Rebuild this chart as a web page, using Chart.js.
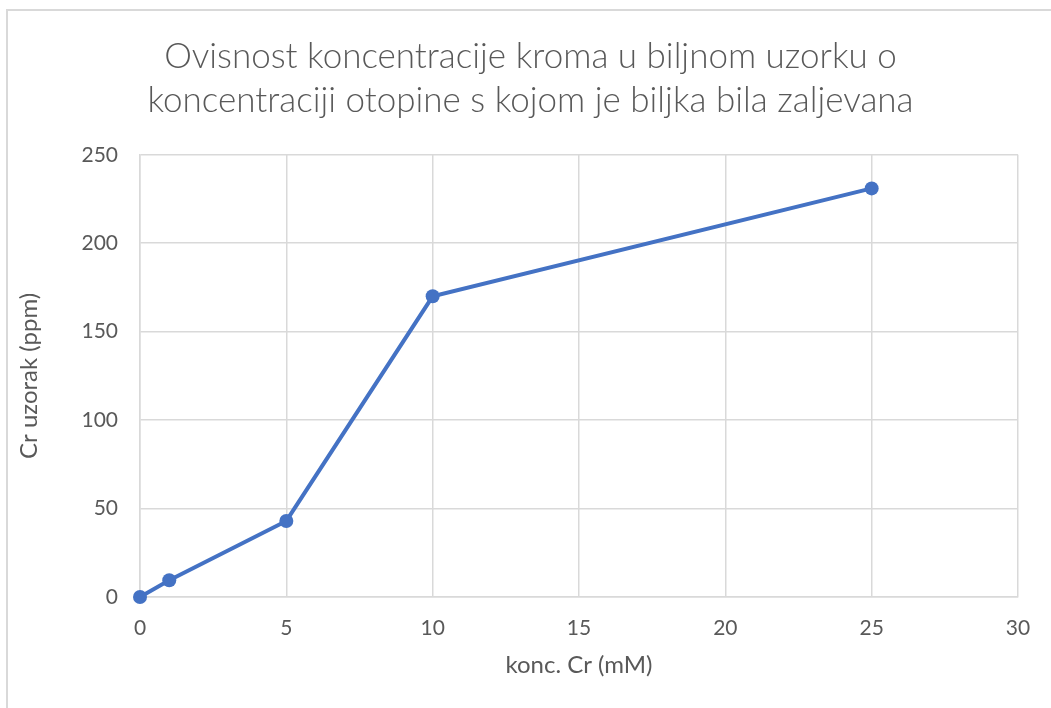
<!DOCTYPE html>
<html>
<head>
<meta charset="utf-8">
<script src="https://cdn.jsdelivr.net/npm/chart.js@4.4.1/dist/chart.umd.min.js"></script>
<style>
  html, body { margin: 0; padding: 0; background: #fff; }
  #wrap { position: relative; width: 1051px; height: 708px; }
  #frame { position: absolute; left: 6px; top: 9px; right: 0; bottom: 0;
           border-top: 2px solid #d9d9d9; border-left: 2px solid #d9d9d9; }
  canvas { position: absolute; left: 0; top: 0; }
</style>
</head>
<body>
<div id="wrap">
  <div id="frame"></div>
  <canvas id="chart" width="1051" height="708"></canvas>
</div>
<script>
// data
const koncCr = [0, 1, 5, 10, 25];
const crUzorak = [0, 9.5, 43, 170, 231];
const xTicks = [0, 5, 10, 15, 20, 25, 30];
const yTicks = [0, 50, 100, 150, 200, 250];

const titleLines = [
  "Ovisnost koncentracije kroma u biljnom uzorku o",
  "koncentraciji otopine s kojom je biljka bila zaljevana"
];

const FONT = "Lato";
const gray = "#595959";
const gridColor = "#d9d9d9";
const blue = "#4472C4";

const ctx = document.getElementById("chart").getContext("2d");

new Chart(ctx, {
  type: "line",
  data: {
    datasets: [{
      label: "Cr uzorak",
      data: koncCr.map((x, i) => ({ x: x, y: crUzorak[i] })),
      borderColor: blue,
      backgroundColor: blue,
      borderWidth: 4,
      pointRadius: 7,
      pointHoverRadius: 7,
      pointBorderWidth: 0,
      tension: 0,
      clip: false
    }]
  },
  options: {
    responsive: false,
    animation: false,
    layout: { padding: { left: 10, right: 0, top: 35, bottom: 20 } },
    plugins: {
      legend: { display: false },
      tooltip: { enabled: false },
      title: {
        display: true,
        text: titleLines,
        color: gray,
        font: { family: FONT, size: 35, weight: 300, lineHeight: 1.26 },
        padding: { top: 0, bottom: 31.6 }
      }
    },
    scales: {
      x: {
        type: "linear",
        min: 0,
        max: 30,
        afterBuildTicks: s => { s.ticks = xTicks.map(v => ({ value: v })); },
        afterFit: s => { s.height = 708 - 597 - 20; },
        grid: { color: gridColor, lineWidth: 1.5, drawTicks: false },
        border: { color: gridColor, width: 1.5 },
        ticks: { color: gray, font: { family: FONT, size: 21 }, padding: 19 },
        title: {
          display: true,
          text: "konc. Cr (mM)",
          color: gray,
          font: { family: FONT, size: 24 },
          padding: { top: 0, bottom: 8 }
        }
      },
      y: {
        min: 0,
        max: 250,
        afterBuildTicks: s => { s.ticks = yTicks.map(v => ({ value: v })); },
        afterFit: s => { s.width = 140 - 10; },
        grid: { color: gridColor, lineWidth: 1.5, drawTicks: false },
        border: { color: gridColor, width: 1.5 },
        ticks: { color: gray, font: { family: FONT, size: 21 }, padding: 22 },
        title: {
          display: true,
          text: "Cr uzorak (ppm)",
          color: gray,
          font: { family: FONT, size: 24 },
          padding: { top: 5, bottom: 0 }
        }
      },
      // empty right-hand spacer so the plot ends where the reference does
      spacer: {
        type: "linear",
        position: "right",
        display: true,
        afterFit: s => { s.width = 1051 - 1018; },
        grid: { display: false, drawTicks: false },
        border: { display: false },
        ticks: { display: false }
      }
    }
  }
});
</script>
</body>
</html>
